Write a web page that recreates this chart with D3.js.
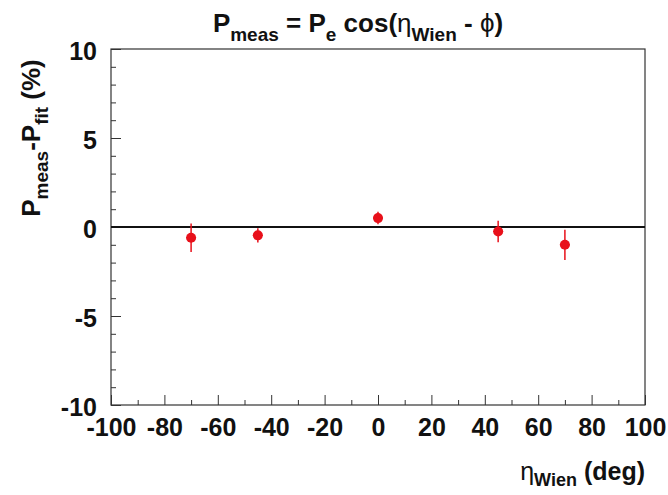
<!DOCTYPE html>
<html>
<head>
<meta charset="utf-8">
<script src="https://cdn.jsdelivr.net/npm/d3@7"></script>
<style>
    body { margin: 0; background: #fff; }
    text { font-family: "Liberation Sans", Arial, sans-serif; font-weight: bold; fill: #111; }
</style>
</head>
<body>
<svg id="chart" width="668" height="495"></svg>
<script>
// wien angle (deg), residual (%), error (%)
var angles = [-70, -45, 0, 45, 70];
var residuals = [-0.6, -0.47, 0.5, -0.25, -1.0];
var errors = [0.8, 0.4, 0.35, 0.6, 0.85];
var xTicks = [-100, -80, -60, -40, -20, 0, 20, 40, 60, 80, 100];
var yTicks = [-10, -5, 0, 5, 10];

(function () {
    var svg = d3.select("#chart"),
        margin = {
            top: 49,
            right: 23,
            bottom: 90,
            left: 111
        },
        width = +svg.attr("width") - margin.left - margin.right,
        height = +svg.attr("height") - margin.top - margin.bottom,
        g = svg.append("g").attr("transform", "translate(" + margin.left + "," + margin.top + ")");

    var x = d3.scaleLinear().domain([-100, 100]).range([0, width]);
    var y = d3.scaleLinear().domain([-10, 10]).range([height, 0]);

    // plain hyphen for negatives, like the original
    var fmt = function (v) { return String(v); };

    // frame
    g.append("rect")
        .attr("width", width)
        .attr("height", height)
        .attr("fill", "none")
        .attr("stroke", "#333")
        .attr("stroke-width", 1.2);

    // minor ticks (inward)
    g.append("g")
        .attr("transform", "translate(0," + height + ")")
        .call(d3.axisTop(x).tickValues(d3.range(-90, 100, 20)).tickSize(5).tickFormat(""))
        .call(function (a) { a.select(".domain").remove(); });
    g.append("g")
        .call(d3.axisRight(y).tickValues(d3.range(-9, 10).filter(function (v) { return v % 5 !== 0; })).tickSize(5).tickFormat(""))
        .call(function (a) { a.select(".domain").remove(); });

    // major ticks + labels
    var xAxis = g.append("g")
        .attr("transform", "translate(0," + height + ")")
        .call(d3.axisTop(x).tickValues(xTicks).tickSize(10).tickFormat(fmt));
    xAxis.select(".domain").remove();
    xAxis.selectAll("text")
        .attr("y", 31)
        .attr("dy", 0)
        .style("font-size", "25px");

    var yAxis = g.append("g")
        .call(d3.axisRight(y).tickValues(yTicks).tickSize(10).tickFormat(fmt));
    yAxis.select(".domain").remove();
    yAxis.selectAll("text")
        .attr("x", -14)
        .attr("dy", "0.4em")
        .attr("text-anchor", "end")
        .style("font-size", "25px");
    g.selectAll(".tick line").attr("stroke", "#333");

    // zero line
    g.append("line")
        .attr("x1", 0)
        .attr("x2", width)
        .attr("y1", y(0))
        .attr("y2", y(0))
        .attr("stroke", "#111")
        .attr("stroke-width", 2);

    // points
    var data = angles.map(function (a, i) {
        return { a: a, r: residuals[i], e: errors[i] };
    });
    var pts = g.selectAll(".pt")
        .data(data)
        .enter().append("g")
        .attr("class", "pt");
    pts.append("line")
        .attr("x1", function (d) { return x(d.a); })
        .attr("x2", function (d) { return x(d.a); })
        .attr("y1", function (d) { return y(d.r + d.e); })
        .attr("y2", function (d) { return y(d.r - d.e); })
        .attr("stroke", "#e8101a")
        .attr("stroke-width", 1.5);
    pts.append("line")
        .attr("x1", function (d) { return x(d.a) - 5; })
        .attr("x2", function (d) { return x(d.a) + 5; })
        .attr("y1", function (d) { return y(d.r); })
        .attr("y2", function (d) { return y(d.r); })
        .attr("stroke", "#e8101a")
        .attr("stroke-width", 1.2);
    pts.append("circle")
        .attr("cx", function (d) { return x(d.a); })
        .attr("cy", function (d) { return y(d.r); })
        .attr("r", 5)
        .attr("fill", "#e8101a");

    // title
    var title = svg.append("text")
        .attr("x", 358)
        .attr("y", 32)
        .attr("text-anchor", "middle")
        .style("font-size", "26px");
    title.append("tspan").text("P");
    title.append("tspan").attr("dy", 9).style("font-size", "19px").text("meas");
    title.append("tspan").attr("dy", -9).text(" = P");
    title.append("tspan").attr("dy", 9).style("font-size", "19px").text("e");
    title.append("tspan").attr("dy", -9).text(" cos(");
    title.append("tspan").style("font-weight", "normal").text("\u03b7");
    title.append("tspan").attr("dy", 9).style("font-size", "19px").text("Wien");
    title.append("tspan").attr("dy", -9).text(" - ");
    title.append("tspan").style("font-weight", "normal").text("\u03d5");
    title.append("tspan").text(")");

    // y label
    var yl = svg.append("text")
        .attr("transform", "translate(40,138) rotate(-90)")
        .attr("text-anchor", "middle")
        .style("font-size", "26px");
    yl.append("tspan").text("P");
    yl.append("tspan").attr("dy", 8).style("font-size", "19px").text("meas");
    yl.append("tspan").attr("dy", -8).text("-P");
    yl.append("tspan").attr("dy", 8).style("font-size", "19px").text("fit");
    yl.append("tspan").attr("dy", -8).text(" (%)");

    // x label
    var xl = svg.append("text")
        .attr("x", 645)
        .attr("y", 480)
        .attr("text-anchor", "end")
        .style("font-size", "25px");
    xl.append("tspan").style("font-weight", "normal").text("\u03b7");
    xl.append("tspan").attr("dy", 6).style("font-size", "18px").text("Wien");
    xl.append("tspan").attr("dy", -6).text(" (deg)");
})();
</script>
</body>
</html>
